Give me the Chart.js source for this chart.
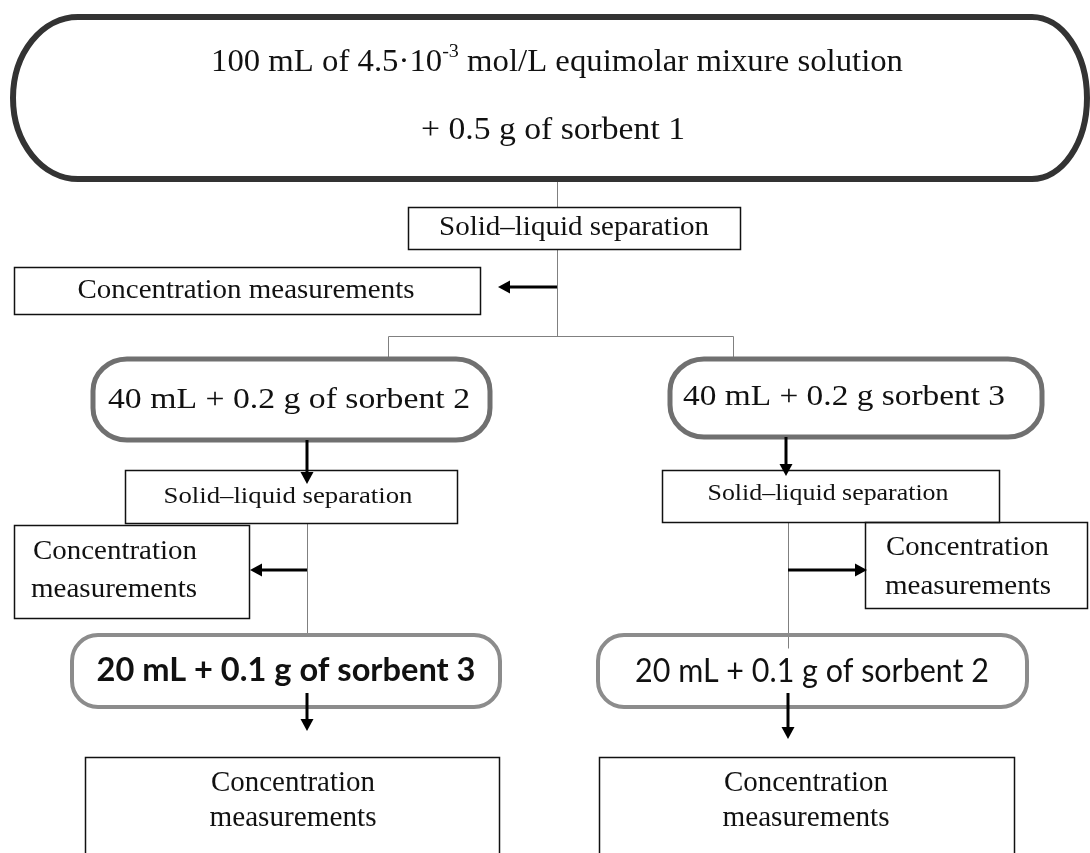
<!DOCTYPE html>
<html>
<head>
<meta charset="utf-8">
<script src="https://cdn.jsdelivr.net/npm/chart.js@4.4.1/dist/chart.umd.min.js"></script>
<style>
  html, body { margin: 0; padding: 0; background: #fff; }
  #wrap { width: 1090px; height: 853px; }
</style>
</head>
<body>
<div id="wrap"><canvas id="flow" width="1090" height="853"></canvas></div>
<script>
// labels of the flow sheet ({..} = superscript)
var feedLabel = ['100 mL of 4.5\u00b710{-3} mol/L equimolar mixure solution', '+ 0.5 g of sorbent 1'];
var separationLabel = 'Solid\u2013liquid separation';
var measurementLabel = ['Concentration', 'measurements'];
var stage2Labels = ['40 mL + 0.2 g of sorbent 2', '40 mL + 0.2 g sorbent 3'];
var stage3Labels = ['20 mL + 0.1 g of sorbent 3', '20 mL + 0.1 g of sorbent 2'];

// layout in scale units (x 0..1090, y 0..853 downwards)
var SERIF = '"Liberation Serif", "Times New Roman", serif';
var SANS = 'Lato, "Open Sans", sans-serif';

var shapes = [
  { kind: 'capsule', x0: 13, y0: 17, x1: 1087, y1: 179, rxl: 65, rxr: 55, ry: 81, color: '#333', lw: 6,
    text: [feedLabel[0], feedLabel[1]], tx: [557, 553], ty: [63, 131], tw: [692, 264], font: '31px ' + SERIF },
  { kind: 'box', x0: 408, y0: 207, x1: 740, y1: 249,
    text: [separationLabel], tx: [574], ty: [228], tw: [270], font: '27px ' + SERIF },
  { kind: 'box', x0: 14, y0: 267, x1: 480, y1: 314,
    text: [measurementLabel.join(' ')], tx: [246], ty: [291], tw: [337], font: '27px ' + SERIF },
  { kind: 'capsule', x0: 93, y0: 359, x1: 490, y1: 440, rxl: 34, rxr: 34, ry: 32, color: '#707070', lw: 5,
    text: [stage2Labels[0]], tx: [289], ty: [400], tw: [362], font: '29px ' + SERIF },
  { kind: 'capsule', x0: 670, y0: 359, x1: 1042, y1: 437, rxl: 34, rxr: 34, ry: 32, color: '#707070', lw: 5,
    text: [stage2Labels[1]], tx: [844], ty: [397], tw: [322], font: '29px ' + SERIF },
  { kind: 'box', x0: 125, y0: 470, x1: 457, y1: 523,
    text: [separationLabel], tx: [288], ty: [497], tw: [249], font: '24px ' + SERIF },
  { kind: 'box', x0: 662, y0: 470, x1: 999, y1: 522,
    text: [separationLabel], tx: [828], ty: [494], tw: [241], font: '24px ' + SERIF },
  { kind: 'box', x0: 14, y0: 525, x1: 249, y1: 618, align: 'left',
    text: measurementLabel, tx: [33, 31], ty: [552, 590], tw: [164, 166], font: '28px ' + SERIF },
  { kind: 'box', x0: 865, y0: 522, x1: 1087, y1: 608, align: 'left',
    text: measurementLabel, tx: [886, 885], ty: [548, 587], tw: [163, 166], font: '28px ' + SERIF },
  { kind: 'capsule', x0: 72, y0: 635, x1: 500, y1: 707, rxl: 26, rxr: 26, ry: 26, color: '#8c8c8c', lw: 4,
    text: [stage3Labels[0]], tx: [286], ty: [671], tw: [379], font: 'bold 32px ' + SANS },
  { kind: 'capsule', x0: 598, y0: 635, x1: 1027, y1: 707, rxl: 26, rxr: 26, ry: 26, color: '#8c8c8c', lw: 4,
    text: [stage3Labels[1]], tx: [812], ty: [672], tw: [354], font: '32px ' + SANS },
  { kind: 'box', x0: 85, y0: 757, x1: 499, y1: 900,
    text: measurementLabel, tx: [293, 293], ty: [783, 818], tw: [164, 167], font: '29px ' + SERIF },
  { kind: 'box', x0: 599, y0: 757, x1: 1014, y1: 900,
    text: measurementLabel, tx: [806, 806], ty: [783, 818], tw: [164, 167], font: '29px ' + SERIF }
];

// thin grey connectors
var connectors = [
  [[557, 180], [557, 207]],
  [[557, 249], [557, 336]],
  [[388, 336], [733, 336]],
  [[388, 336], [388, 359]],
  [[733, 336], [733, 359]],
  [[307, 523], [307, 635]],
  [[788, 522], [788, 648]]
];

// black arrows [from, to]
var arrows = [
  [[557, 287], [498, 287]],
  [[307, 440], [307, 484]],
  [[786, 437], [786, 476]],
  [[307, 570], [250, 570]],
  [[788, 570], [867, 570]],
  [[307, 693], [307, 731]],
  [[788, 693], [788, 739]]
];

function drawRichText(ctx, str, x, y, font, targetW, align) {
  var size = parseFloat(font.match(/(\d+(\.\d+)?)px/)[1]);
  var supFont = font.replace(/(\d+(\.\d+)?)px/, Math.round(size * 0.62) + 'px');
  var parts = str.split(/\{([^}]*)\}/);
  var widths = [];
  var total = 0;
  for (var i = 0; i < parts.length; i++) {
    ctx.font = (i % 2) ? supFont : font;
    widths.push(ctx.measureText(parts[i]).width);
    total += widths[i];
  }
  var s = targetW ? targetW / total : 1;
  ctx.save();
  var left = align === 'left' ? x : x - total * s / 2;
  ctx.translate(left, y);
  ctx.scale(s, 1);
  ctx.textAlign = 'left';
  ctx.textBaseline = 'middle';
  ctx.fillStyle = '#111';
  var cx = 0;
  for (var j = 0; j < parts.length; j++) {
    ctx.font = (j % 2) ? supFont : font;
    ctx.fillText(parts[j], cx, (j % 2) ? -size * 0.36 : 0);
    cx += widths[j];
  }
  ctx.restore();
}

function capsulePath(ctx, x0, y0, x1, y1, rxl, rxr, ry) {
  var P = Math.PI;
  ctx.beginPath();
  ctx.moveTo(x0 + rxl, y0);
  ctx.lineTo(x1 - rxr, y0);
  ctx.ellipse(x1 - rxr, y0 + ry, rxr, ry, 0, -P / 2, 0);
  ctx.lineTo(x1, y1 - ry);
  ctx.ellipse(x1 - rxr, y1 - ry, rxr, ry, 0, 0, P / 2);
  ctx.lineTo(x0 + rxl, y1);
  ctx.ellipse(x0 + rxl, y1 - ry, rxl, ry, 0, P / 2, P);
  ctx.lineTo(x0, y0 + ry);
  ctx.ellipse(x0 + rxl, y0 + ry, rxl, ry, 0, P, 1.5 * P);
  ctx.closePath();
}

var flowPlugin = {
  id: 'flowSheet',
  afterDraw: function(chart) {
    var ctx = chart.ctx;
    var sx = chart.scales.x;
    var sy = chart.scales.y;
    function X(v) { return sx.getPixelForValue(v); }
    function Y(v) { return sy.getPixelForValue(v); }

    ctx.save();
    ctx.lineCap = 'butt';

    // connectors
    ctx.strokeStyle = '#808080';
    ctx.lineWidth = 1;
    connectors.forEach(function(c) {
      ctx.beginPath();
      ctx.moveTo(Math.round(X(c[0][0])) + 0.5, Math.round(Y(c[0][1])) + 0.5);
      ctx.lineTo(Math.round(X(c[1][0])) + 0.5, Math.round(Y(c[1][1])) + 0.5);
      ctx.stroke();
    });

    // shapes and their labels
    shapes.forEach(function(n) {
      var x0 = X(n.x0), x1 = X(n.x1), y0 = Y(n.y0), y1 = Y(n.y1);
      if (n.kind === 'capsule') {
        var rxl = X(n.x0 + n.rxl) - x0;
        var rxr = X(n.x0 + n.rxr) - x0;
        var ry = Y(n.y0 + n.ry) - y0;
        capsulePath(ctx, x0, y0, x1, y1, rxl, rxr, ry);
        ctx.strokeStyle = n.color;
        ctx.lineWidth = n.lw;
        ctx.stroke();
      } else {
        ctx.strokeStyle = '#111';
        ctx.lineWidth = 1.5;
        ctx.strokeRect(Math.round(x0) + 0.5, Math.round(y0) + 0.5, Math.round(x1 - x0), Math.round(y1 - y0));
      }
      n.text.forEach(function(t, i) {
        var tw = X(n.tx[i] + n.tw[i]) - X(n.tx[i]);
        drawRichText(ctx, t, X(n.tx[i]), Y(n.ty[i]), n.font, tw, n.align);
      });
    });

    // arrows
    ctx.strokeStyle = '#000';
    ctx.fillStyle = '#000';
    arrows.forEach(function(a) {
      var ax = X(a[0][0]), ay = Y(a[0][1]), bx = X(a[1][0]), by = Y(a[1][1]);
      var ang = Math.atan2(by - ay, bx - ax);
      var hl = 12, hw = 6.5;
      var ex = bx - Math.cos(ang) * hl, ey = by - Math.sin(ang) * hl;
      ctx.lineWidth = 3;
      ctx.beginPath();
      ctx.moveTo(ax, ay);
      ctx.lineTo(ex, ey);
      ctx.stroke();
      ctx.beginPath();
      ctx.moveTo(bx, by);
      ctx.lineTo(ex + Math.sin(ang) * hw, ey - Math.cos(ang) * hw);
      ctx.lineTo(ex - Math.sin(ang) * hw, ey + Math.cos(ang) * hw);
      ctx.closePath();
      ctx.fill();
    });
    ctx.restore();
  }
};

new Chart(document.getElementById('flow'), {
  type: 'scatter',
  data: { datasets: [{ data: [], pointRadius: 0 }] },
  options: {
    responsive: false,
    devicePixelRatio: 1,
    animation: false,
    layout: { padding: 0 },
    plugins: { legend: { display: false }, tooltip: { enabled: false } },
    scales: {
      x: { type: 'linear', min: 0, max: 1090, display: false },
      y: { type: 'linear', min: 0, max: 853, reverse: true, display: false }
    }
  },
  plugins: [flowPlugin]
});
</script>
</body>
</html>
